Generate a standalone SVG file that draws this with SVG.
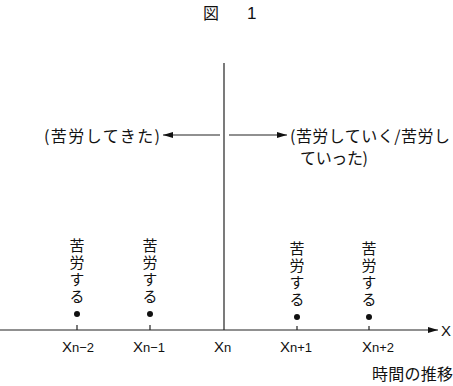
<svg xmlns="http://www.w3.org/2000/svg" width="453" height="386" viewBox="0 0 453 386">
<defs>
<style>
.jp{font-family:"Noto Sans CJK JP","Noto Sans",sans-serif;font-size:16px;fill:#111}
.vt{font-family:"Noto Sans CJK JP","Noto Sans",sans-serif;font-size:15px;fill:#111;writing-mode:vertical-rl;letter-spacing:2px}
.lat{font-family:"Liberation Sans",Arial,sans-serif;fill:#111}
.ln{stroke:#222;stroke-width:1.2;fill:none}
</style>
<marker id="ah" viewBox="0 0 10 6" refX="10" refY="3" markerWidth="10" markerHeight="6" markerUnits="userSpaceOnUse" orient="auto">
<path d="M0,0 L10,3 L0,6 Z" fill="#111"/>
</marker>
</defs>
<rect width="453" height="386" fill="#fff"/>
<g id="title">
<text class="jp" x="203" y="19" font-size="17">図</text>
<text class="lat" x="247" y="19" font-size="17">1</text>
</g>
<g id="connectors">
<line class="ln" x1="0" y1="330" x2="438" y2="330" marker-end="url(#ah)"/>
<line class="ln" x1="224" y1="63" x2="224" y2="330"/>
<line class="ln" x1="220" y1="135" x2="163" y2="135" marker-end="url(#ah)"/>
<line class="ln" x1="229" y1="135" x2="287" y2="135" marker-end="url(#ah)"/>
<line class="ln" x1="77" y1="325" x2="77" y2="330"/>
<line class="ln" x1="150" y1="325" x2="150" y2="330"/>
<line class="ln" x1="297" y1="326" x2="297" y2="330"/>
<line class="ln" x1="369" y1="326" x2="369" y2="330"/>
</g>
<g id="axis-label"><text class="lat" x="441" y="336" font-size="15">X</text></g>
<g id="past"><text class="jp" x="44" y="142" textLength="116" lengthAdjust="spacing">(苦労してきた)</text></g>
<g id="future">
<text class="jp" x="290" y="142" textLength="160" lengthAdjust="spacing">(苦労していく/苦労し</text>
<text class="jp" x="300" y="164" textLength="68" lengthAdjust="spacing">ていった)</text>
</g>
<g id="n-2">
<circle cx="77" cy="314" r="3" fill="#111"/>
<text class="vt" x="77" y="238">苦労する</text>
<text class="lat" x="62" y="352" font-size="15">X<tspan font-size="13">n−2</tspan></text>
</g>
<g id="n-1">
<circle cx="150" cy="314" r="3" fill="#111"/>
<text class="vt" x="150" y="238">苦労する</text>
<text class="lat" x="133" y="352" font-size="15">X<tspan font-size="13">n−1</tspan></text>
</g>
<g id="n">
<text class="lat" x="214" y="352" font-size="15">X<tspan font-size="13">n</tspan></text>
</g>
<g id="n+1">
<circle cx="297" cy="317" r="3" fill="#111"/>
<text class="vt" x="297" y="241">苦労する</text>
<text class="lat" x="280" y="352" font-size="15">X<tspan font-size="13">n+1</tspan></text>
</g>
<g id="n+2">
<circle cx="369" cy="317" r="3" fill="#111"/>
<text class="vt" x="369" y="241">苦労する</text>
<text class="lat" x="362" y="352" font-size="15">X<tspan font-size="13">n+2</tspan></text>
</g>
<g id="time"><text class="jp" x="372" y="380" textLength="81" lengthAdjust="spacing">時間の推移</text></g>
</svg>
